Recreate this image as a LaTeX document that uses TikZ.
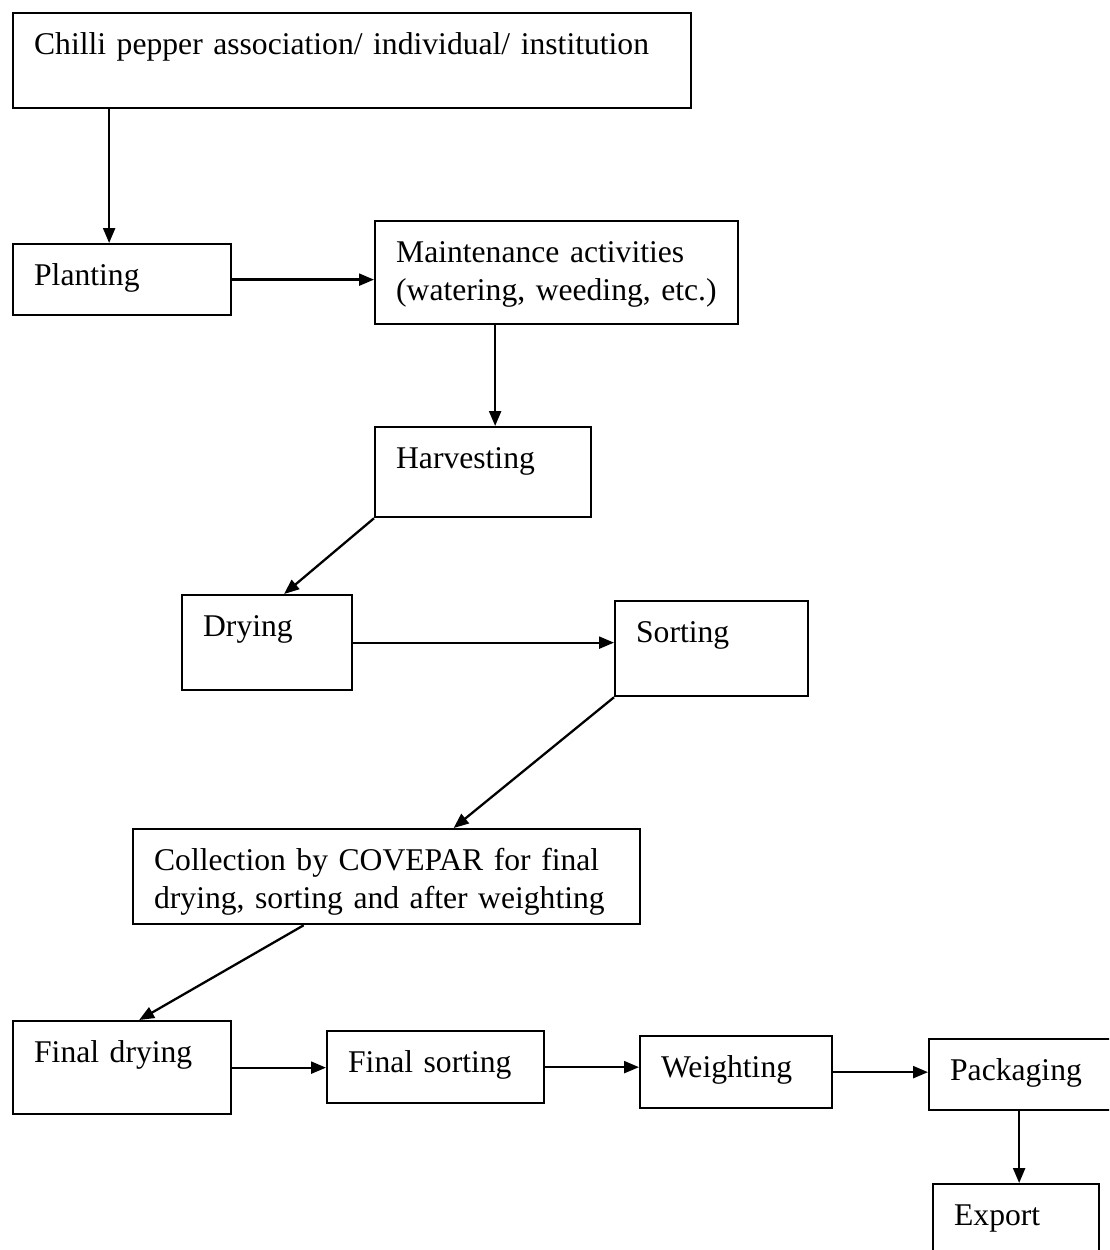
\documentclass[tikz,border=0pt]{standalone}
\usepackage{fontspec}
\setmainfont{Liberation Serif}
\usetikzlibrary{arrows.meta,calc}

\begin{document}
\begin{tikzpicture}[x=0.02cm, y=-0.02cm, line width=1.3pt,
		stage/.style 2 args={draw, anchor=north west, align=left, inner xsep=0.42cm, inner ysep=0pt,
			font=\fontsize{18}{22}\selectfont, text height=0.82cm, text depth={(#2-41)*0.02cm}, text width={(#1-42)*0.02cm}},
		flow/.style={-{Triangle[length=0.3cm, width=0.24cm]}}]
		\clip (0,0) rectangle (1109,1250);
		\node[stage={678}{95}] (chilli) at (12,12) {Chilli pepper association/ individual/ institution};
		\node[stage={218}{71}] (plant) at (12,243) {Planting};
		\node[stage={363}{103}] (maint) at (374,220) {Maintenance activities\\(watering, weeding, etc.)};
		\node[stage={216}{90}] (harv) at (374,426) {Harvesting};
		\node[stage={170}{95}] (dry) at (181,594) {Drying};
		\node[stage={193}{95}] (sort) at (614,600) {Sorting};
		\node[stage={507}{95}] (coll) at (132,828) {Collection by COVEPAR for final\\drying, sorting and after weighting};
		\node[stage={218}{93}] (fdry) at (12,1020) {Final drying};
		\node[stage={217}{72}] (fsort) at (326,1030) {Final sorting};
		\node[stage={192}{72}] (weigh) at (639,1035) {Weighting};
		\node[stage={200}{71}] (pack) at (928,1038) {Packaging};
		\node[stage={166}{90}] (export) at (932,1183) {Export};
		\coordinate (a1) at ($(plant.north)+(-13,0)$);
		\draw[flow] (a1 |- chilli.south) -- (a1);
		\draw[flow] (plant.east) -- (plant.east -| maint.west);
		\coordinate (a3) at ($(harv.north)+(12,0)$);
		\draw[flow] (a3 |- maint.south) -- (a3);
		\draw[flow] (harv.south west) -- ($(dry.north)+(17,0)$);
		\draw[flow] (dry.east) -- (dry.east -| sort.west);
		\draw[flow] (sort.south west) -- ($(coll.north)+(67,0)$);
		\draw[flow] ($(coll.south)+(-83,0)$) -- ($(fdry.north)+(17,0)$);
		\draw[flow] (fdry.east) -- (fdry.east -| fsort.west);
		\draw[flow] (fsort.east) -- (fsort.east -| weigh.west);
		\draw[flow] (weigh.east) -- (weigh.east -| pack.west);
		\coordinate (a11) at ($(export.north)+(3,0)$);
		\draw[flow] (a11 |- pack.south) -- (a11);
	\end{tikzpicture}
\end{document}
